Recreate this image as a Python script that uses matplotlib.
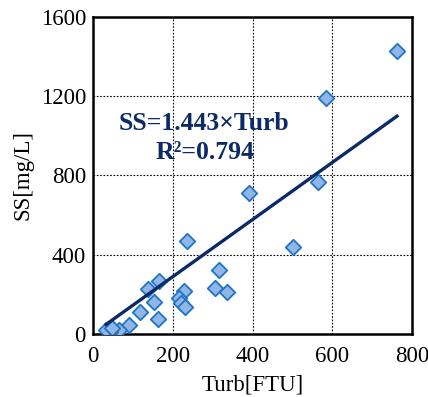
import matplotlib
matplotlib.use("Agg")
import matplotlib.pyplot as plt
import numpy as np

turb = [762, 583, 565, 391, 502, 235, 317, 306, 337, 228, 216, 220, 231,
        165, 138, 154, 117, 163, 91, 65, 37, 44, 33, 47]
ss = [1427, 1193, 768, 713, 440, 471, 323, 232, 212, 215, 182, 158, 135,
      269, 227, 160, 108, 74, 44, 20, 24, 12, 20, 28]
slope = 1.443
r2 = 0.794
xticks = [0, 200, 400, 600, 800]
yticks = [0, 400, 800, 1200, 1600]

plt.rcParams['font.family'] = ['Liberation Serif', 'DejaVu Serif']
fig = plt.figure(figsize=(4.28, 3.97), dpi=100)
ax = fig.add_axes([0.217, 0.159, 0.746, 0.798])

ax.scatter(turb, ss, marker='D', s=62, facecolor='#8fb6e6', edgecolor='#1f74c4',
           linewidth=1.3, zorder=3)
xl = np.array([min(turb), max(turb)])
ax.plot(xl, slope * xl, color='#0b2a66', linewidth=2.4, zorder=4)

ax.set_xlim(0, 800)
ax.set_ylim(0, 1600)
ax.set_xticks(xticks)
ax.set_yticks(yticks)
ax.tick_params(length=0, labelsize=16.5)
ax.tick_params(axis='x', pad=9)
ax.tick_params(axis='y', pad=5)
ax.grid(True, linestyle=(0, (1.5, 1.5)), color='black', linewidth=0.8)
for s in ax.spines.values():
    s.set_linewidth(1.8)
ax.set_xlabel('Turb[FTU]', fontsize=16.5, labelpad=5)
ax.set_ylabel('SS[mg/L]', fontsize=16.5, labelpad=5)

ax.text(278, 1060, f'SS={slope}×Turb', ha='center', va='center', fontsize=18.5,
        fontweight='bold', color='#0b2a66', zorder=5)
ax.text(280, 918, f'R²={r2}', ha='center', va='center', fontsize=18.5,
        fontweight='bold', color='#0b2a66', zorder=5)

fig.savefig('out.png', dpi=100)
